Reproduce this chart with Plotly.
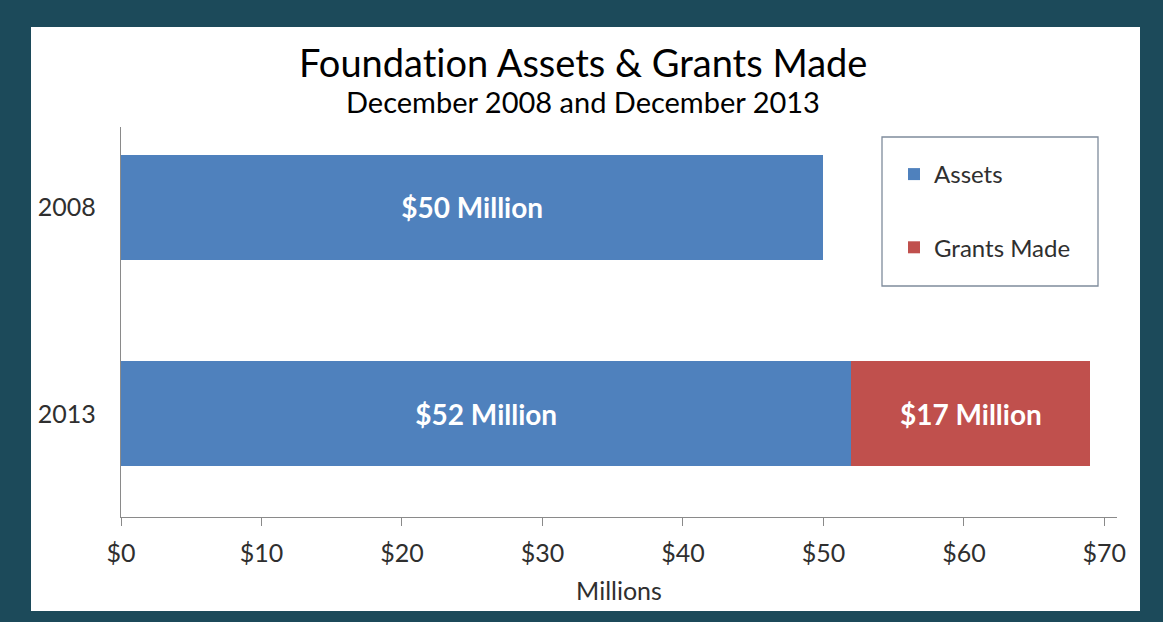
import plotly.graph_objects as go

years = ["2008", "2013"]
assets = [50, 52]
grants = [None, 17]
asset_labels = ["$50 Million", "$52 Million"]
grant_labels = ["", "$17 Million"]
x_ticks = [0, 10, 20, 30, 40, 50, 60, 70]
x_tick_labels = ["$0", "$10", "$20", "$30", "$40", "$50", "$60", "$70"]

BLUE = "#4f81bd"
RED = "#c0504d"
TEAL = "#1c4a5a"
AXIS = "#8a8a8a"
TXT = "#2f2f2f"
FONT = "Lato"

W, H = 1163, 622
L, R, T, B = 121, 46, 127, 105
pw, ph = W - L - R, H - T - B

def px_x(x):
    return (x - L) / pw

def px_y(y):
    return (H - B - y) / ph

fig = go.Figure()
fig.add_trace(go.Bar(
    y=years, x=assets, orientation="h", name="Assets",
    marker=dict(color=BLUE, line=dict(width=0)), width=0.51,
    text=asset_labels, textposition="inside", insidetextanchor="middle",
    textfont=dict(family=FONT, size=28, color="white", weight="bold"),
    hoverinfo="skip", legendgroup="g0",
))
fig.add_trace(go.Bar(
    y=years, x=grants, orientation="h", name="Grants Made",
    marker=dict(color=RED, line=dict(width=0)), width=0.51,
    text=grant_labels, textposition="inside", insidetextanchor="middle",
    textfont=dict(family=FONT, size=28, color="white", weight="bold"),
    hoverinfo="skip", legendgroup="g1",
))

shapes = [
    dict(type="rect", xref="paper", yref="paper", layer="below",
         x0=px_x(31), x1=px_x(1140), y0=px_y(611), y1=px_y(27),
         fillcolor="white", line=dict(width=0)),
    dict(type="rect", xref="paper", yref="paper", layer="above",
         x0=px_x(882), x1=px_x(1098), y0=px_y(286), y1=px_y(137),
         fillcolor="rgba(0,0,0,0)", line=dict(width=1.3, color="#7f8c9c")),
]

annotations = [
    dict(text="Foundat\u200cion Assets &amp; Grants Made", xref="paper", yref="paper",
         x=px_x(583), y=px_y(62), showarrow=False, xanchor="center", yanchor="middle",
         font=dict(family=FONT, size=38, color="black")),
    dict(text="December 2008 and December 2013", xref="paper", yref="paper",
         x=px_x(583), y=px_y(101), showarrow=False, xanchor="center", yanchor="middle",
         font=dict(family=FONT, size=29, color="black", weight=400)),
]

fig.update_layout(
    width=W, height=H,
    margin=dict(l=L, r=R, t=T, b=B),
    paper_bgcolor=TEAL, plot_bgcolor="white",
    barmode="stack",
    shapes=shapes, annotations=annotations,
    showlegend=True,
    legend=dict(x=px_x(894), y=px_y(152), xanchor="left", yanchor="top",
                bgcolor="rgba(0,0,0,0)", borderwidth=0,
                font=dict(family=FONT, size=24, color=TXT),
                traceorder="grouped", tracegroupgap=39, itemwidth=30),
    xaxis=dict(range=[0, 70.9], tickvals=x_ticks, ticktext=x_tick_labels,
               showgrid=False, zeroline=False,
               showline=True, linecolor=AXIS, linewidth=1.3,
               ticks="outside", ticklen=8, tickcolor=AXIS, tickwidth=1.3,
               tickfont=dict(family=FONT, size=25, color=TXT),
               ticklabelstandoff=6,
               title=dict(text="Millions", standoff=16,
                          font=dict(family=FONT, size=25, color=TXT))),
    yaxis=dict(type="category", categoryorder="array", categoryarray=years,
               range=[1.5, -0.39], showgrid=False, zeroline=False,
               showline=True, linecolor=AXIS, linewidth=1.3, ticks="",
               tickfont=dict(family=FONT, size=25, color=TXT),
               ticklabelstandoff=19),
)

fig.write_html("out.html", config={"displayModeBar": False},
               post_script="document.body.style.margin='0';")
